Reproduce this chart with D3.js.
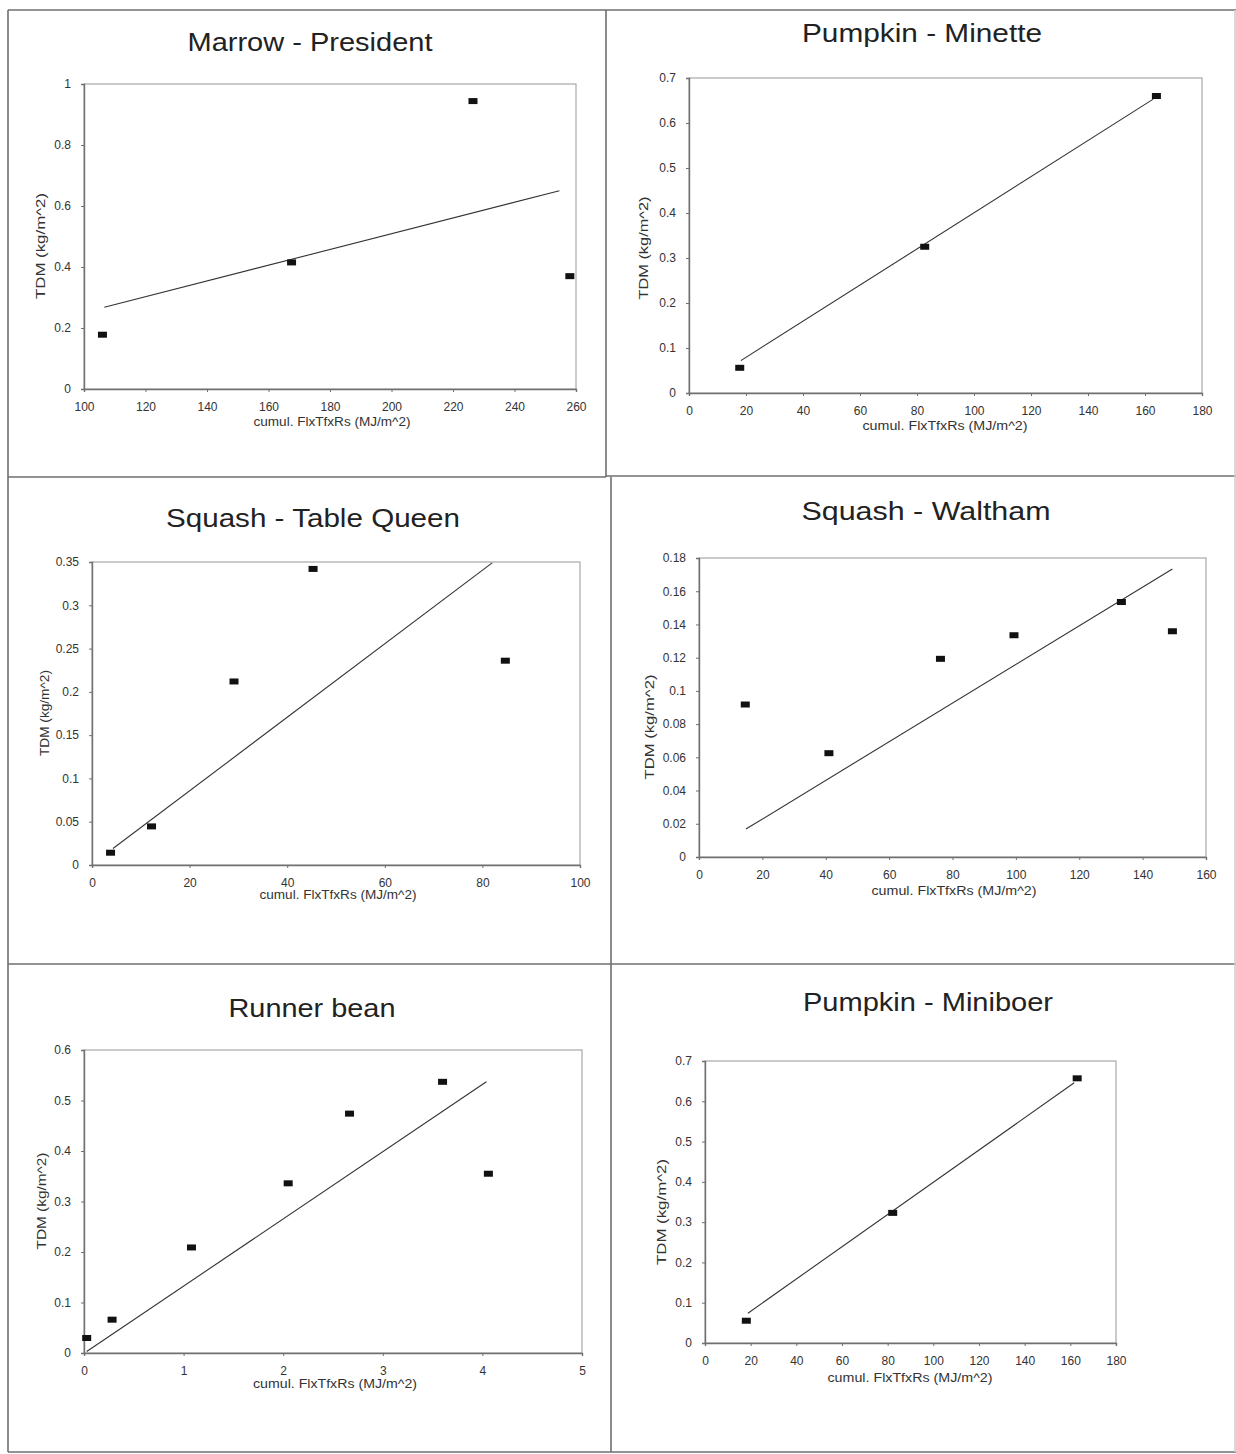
<!DOCTYPE html>
<html>
<head>
<meta charset="utf-8">
<script src="https://cdn.jsdelivr.net/npm/d3@7"></script>
<style>
  html, body { margin: 0; padding: 0; background: #fff; }
  svg { display: block; }
  text { font-family: Arial, "Liberation Sans", sans-serif; }
</style>
</head>
<body>
<svg id="chart" width="1236" height="1454"></svg>
<script>
// ---------- DATA ----------
const titles = ["Marrow - President", "Pumpkin - Minette", "Squash - Table Queen",
                "Squash - Waltham", "Runner bean", "Pumpkin - Miniboer"];
const xLabel = "cumul. FlxTfxRs (MJ/m^2)";
const yLabel = "TDM (kg/m^2)";

// x values (cumulative intercepted radiation) and y values (TDM) per panel
const marrowX   = [106, 167.5, 226.5, 258];
const marrowY   = [0.178, 0.415, 0.944, 0.37];
const minetteX  = [17.8, 82.7, 164];
const minetteY  = [0.056, 0.325, 0.66];
const tableQX   = [3.8, 12.2, 29.1, 45.3, 84.7];
const tableQY   = [0.0142, 0.0446, 0.212, 0.342, 0.236];
const walthamX  = [14.6, 41.0, 76.2, 99.4, 133.3, 149.4];
const walthamY  = [0.0918, 0.0625, 0.1193, 0.1335, 0.1535, 0.1359];
const runnerX   = [0.027, 0.282, 1.079, 2.05, 2.666, 3.60, 4.06];
const runnerY   = [0.0297, 0.066, 0.209, 0.336, 0.474, 0.537, 0.355];
const miniboerX = [18.1, 82.2, 163.0];
const miniboerY = [0.0553, 0.323, 0.657];

// trend line end points [x0, y0, x1, y1]
const trendMarrow   = [106.6, 0.268, 254.6, 0.650];
const trendMinette  = [18.2, 0.072, 162.9, 0.653];
const trendTableQ   = [4.3, 0.019, 82.0, 0.349];
const trendWaltham  = [14.8, 0.0168, 149.4, 0.1734];
const trendRunner   = [0.027, 0.003, 4.04, 0.537];
const trendMiniboer = [18.8, 0.074, 161.7, 0.646];

// axis domains and tick values
const xDomains = [[100, 260], [0, 180], [0, 100], [0, 160], [0, 5], [0, 180]];
const yDomains = [[0, 1], [0, 0.7], [0, 0.35], [0, 0.18], [0, 0.6], [0, 0.7]];
const xTicks = [
  [100, 120, 140, 160, 180, 200, 220, 240, 260],
  [0, 20, 40, 60, 80, 100, 120, 140, 160, 180],
  [0, 20, 40, 60, 80, 100],
  [0, 20, 40, 60, 80, 100, 120, 140, 160],
  [0, 1, 2, 3, 4, 5],
  [0, 20, 40, 60, 80, 100, 120, 140, 160, 180]
];
const yTicks = [
  [0, 0.2, 0.4, 0.6, 0.8, 1],
  [0, 0.1, 0.2, 0.3, 0.4, 0.5, 0.6, 0.7],
  [0, 0.05, 0.1, 0.15, 0.2, 0.25, 0.3, 0.35],
  [0, 0.02, 0.04, 0.06, 0.08, 0.1, 0.12, 0.14, 0.16, 0.18],
  [0, 0.1, 0.2, 0.3, 0.4, 0.5, 0.6],
  [0, 0.1, 0.2, 0.3, 0.4, 0.5, 0.6, 0.7]
];

const seriesX = [marrowX, minetteX, tableQX, walthamX, runnerX, miniboerX];
const seriesY = [marrowY, minetteY, tableQY, walthamY, runnerY, miniboerY];
const trends  = [trendMarrow, trendMinette, trendTableQ, trendWaltham, trendRunner, trendMiniboer];

// ---------- LAYOUT ----------
// plot rectangles: [left, right, top, bottom]
const plotRects = [
  [84, 576, 84, 389],
  [689, 1202, 78, 393],
  [92, 580, 562, 865],
  [699, 1206, 558, 857],
  [84, 582, 1050, 1353],
  [705, 1116, 1061, 1343]
];
// title: [centerX, centerY, width]
const titlePos = [[310, 42, 245], [922, 33, 240], [313, 518, 294],
                  [926, 511, 249], [312, 1008, 167], [928, 1002, 250]];
// x axis label: [centerX, centerY, width]
const xLabelPos = [[332, 421.5, 157], [945, 426, 165], [338, 895, 157],
                   [954, 891, 165], [335, 1384, 164], [910, 1378, 165]];
// y axis label: [centerX, centerY, length]
const yLabelPos = [[41, 246, 106], [644, 248, 103], [45, 713, 86],
                   [650, 727, 105], [42, 1201, 97], [662, 1212, 106]];

const svg = d3.select("#chart");

// panel cell borders
const borderColor = "#6f6f6f";
const borders = [
  [8, 10, 1236, 10],
  [8, 10, 8, 1452],
  [606, 10, 606, 477],
  [611, 477, 611, 1452],
  [8, 477, 606, 477],
  [606, 476, 1236, 476],
  [8, 964, 1236, 964],
  [8, 1452, 1236, 1452],
  [1235, 10, 1235, 1452]
];
svg.append("g").selectAll("line").data(borders).join("line")
  .attr("x1", d => d[0]).attr("y1", d => d[1])
  .attr("x2", d => d[2]).attr("y2", d => d[3])
  .attr("stroke", (d, i) => i === 8 ? "#cfcfcf" : borderColor)
  .attr("stroke-width", 1.6);

const fmt = v => String(+v.toFixed(3));

titles.forEach((title, i) => {
  const [L, R, T, B] = plotRects[i];
  const x = d3.scaleLinear().domain(xDomains[i]).range([L, R]);
  const y = d3.scaleLinear().domain(yDomains[i]).range([B, T]);
  const g = svg.append("g");

  // plot frame
  g.append("rect").attr("x", L).attr("y", T).attr("width", R - L).attr("height", B - T)
    .attr("fill", "none").attr("stroke", "#a8a8a8").attr("stroke-width", 1.2);

  // axes
  const xa = g.append("g").attr("transform", `translate(0,${B})`)
    .call(d3.axisBottom(x).tickValues(xTicks[i]).tickFormat(fmt).tickSize(3).tickPadding(10));
  const ya = g.append("g").attr("transform", `translate(${L},0)`)
    .call(d3.axisLeft(y).tickValues(yTicks[i]).tickFormat(fmt).tickSize(3).tickPadding(10));
  [xa, ya].forEach(a => {
    a.select(".domain").attr("stroke", "#707070").attr("stroke-width", 1.4);
    a.selectAll(".tick line").attr("stroke", "#707070");
    a.selectAll(".tick text").attr("fill", "#333").style("font-size", "12px")
      .style("font-family", "Arial, 'Liberation Sans', sans-serif");
  });

  // title
  g.append("text").attr("x", titlePos[i][0]).attr("y", titlePos[i][1])
    .attr("text-anchor", "middle").attr("dominant-baseline", "central")
    .attr("textLength", titlePos[i][2]).attr("lengthAdjust", "spacingAndGlyphs")
    .attr("fill", "#222").style("font-size", "25px").text(title);

  // axis labels
  g.append("text").attr("x", xLabelPos[i][0]).attr("y", xLabelPos[i][1])
    .attr("text-anchor", "middle").attr("dominant-baseline", "central")
    .attr("textLength", xLabelPos[i][2]).attr("lengthAdjust", "spacingAndGlyphs")
    .attr("fill", "#333").style("font-size", "12px")
    .text(xLabel);
  g.append("text")
    .attr("transform", `translate(${yLabelPos[i][0]},${yLabelPos[i][1]}) rotate(-90)`)
    .attr("text-anchor", "middle").attr("dominant-baseline", "central")
    .attr("textLength", yLabelPos[i][2]).attr("lengthAdjust", "spacingAndGlyphs")
    .attr("fill", "#333").style("font-size", "12px").text(yLabel);

  // trend line
  const t = trends[i];
  g.append("line")
    .attr("x1", x(t[0])).attr("y1", y(t[1]))
    .attr("x2", x(t[2])).attr("y2", y(t[3]))
    .attr("stroke", "#333").attr("stroke-width", 1.1);

  // markers
  const pts = seriesX[i].map((v, k) => [v, seriesY[i][k]]);
  g.append("g").selectAll("rect").data(pts).join("rect")
    .attr("x", d => x(d[0]) - 4.5).attr("y", d => y(d[1]) - 3)
    .attr("width", 9).attr("height", 6).attr("fill", "#111");
});
</script>
</body>
</html>
